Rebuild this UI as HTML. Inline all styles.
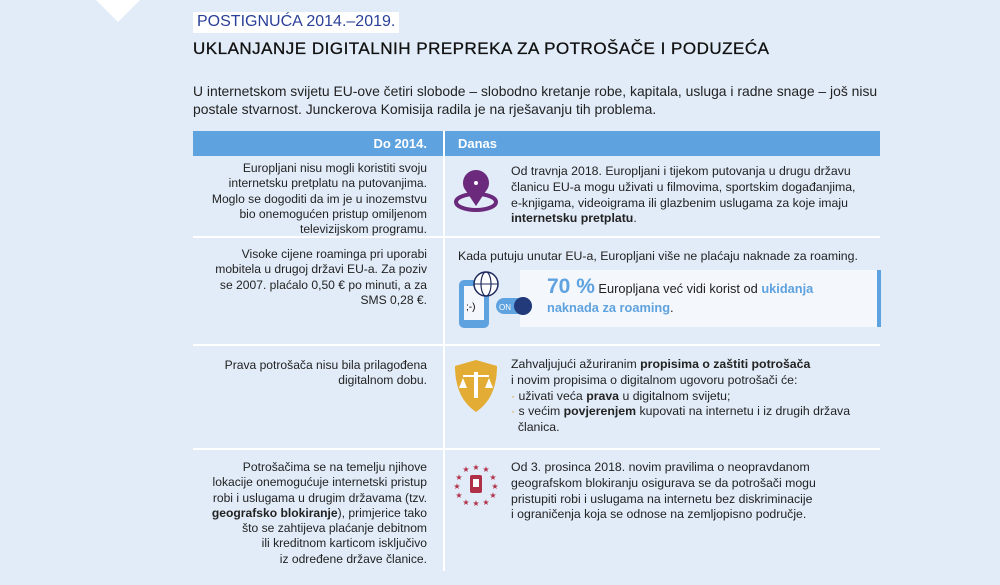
<!DOCTYPE html>
<html><head><meta charset="utf-8"><style>
body{margin:0;width:1000px;height:585px;background:#e2ecf8;font-family:"Liberation Sans",sans-serif;color:#222;position:relative;overflow:hidden}
.a{position:absolute}
.l{position:absolute;left:173px;width:254px;text-align:right;font-size:12.1px;line-height:15.3px;white-space:nowrap}
.r{position:absolute;left:511px;width:380px;font-size:12.3px;line-height:15.8px;white-space:nowrap}
b{font-weight:bold}
.hl{position:absolute;left:193px;width:687px;height:2px;background:#fff}
</style></head><body>
<div class="a" style="left:96px;top:0;width:0;height:0;border-left:22px solid transparent;border-right:22px solid transparent;border-top:22px solid #fff"></div>
<div class="a" style="left:193px;top:12px;background:#fff;color:#2a3f98;font-size:16px;padding:1px 4px 2px 4px">POSTIGNUĆA 2014.–2019.</div>
<div class="a" style="left:193px;top:39px;font-size:17px;letter-spacing:0.5px;color:#111;white-space:nowrap;-webkit-text-stroke:0.3px #111">UKLANJANJE DIGITALNIH PREPREKA ZA POTROŠAČE I PODUZEĆA</div>
<div class="a" style="left:193px;top:82px;width:700px;font-size:13.9px;line-height:18px;color:#222;white-space:nowrap">U internetskom svijetu EU-ove četiri slobode – slobodno kretanje robe, kapitala, usluga i radne snage – još nisu<br>postale stvarnost. Junckerova Komisija radila je na rješavanju tih problema.</div>
<div class="a" style="left:193px;top:131px;width:687px;height:25px;background:#5ea2df"></div>
<div class="a" style="left:443px;top:131px;width:2px;height:440px;background:#fff"></div>
<div class="a" style="left:193px;top:136px;width:234px;text-align:right;color:#fff;font-weight:bold;font-size:13px">Do 2014.</div>
<div class="a" style="left:458px;top:136px;color:#fff;font-weight:bold;font-size:13px">Danas</div>
<div class="hl" style="top:236px"></div><div class="hl" style="top:344px"></div><div class="hl" style="top:448px"></div>
<div class="l" style="top:161px">Europljani nisu mogli koristiti svoju<br>internetsku pretplatu na putovanjima.<br>Moglo se dogoditi da im je u inozemstvu<br>bio onemogućen pristup omiljenom<br>televizijskom programu.</div>
<div class="l" style="top:247px">Visoke cijene roaminga pri uporabi<br>mobitela u drugoj državi EU-a. Za poziv<br>se 2007. plaćalo 0,50 € po minuti, a za<br>SMS 0,28 €.</div>
<div class="l" style="top:358px">Prava potrošača nisu bila prilagođena<br>digitalnom dobu.</div>
<div class="l" style="top:460px">Potrošačima se na temelju njihove<br>lokacije onemogućuje internetski pristup<br>robi i uslugama u drugim državama (tzv.<br><b>geografsko blokiranje</b>), primjerice tako<br>što se zahtijeva plaćanje debitnom<br>ili kreditnom karticom isključivo<br>iz određene države članice.</div>
<div class="r" style="top:164px">Od travnja 2018. Europljani i tijekom putovanja u drugu državu<br>članicu EU-a mogu uživati u filmovima, sportskim događanjima,<br>e-knjigama, videoigrama ili glazbenim uslugama za koje imaju<br><b>internetsku pretplatu</b>.</div>
<svg class="a" style="left:452px;top:170px" width="48" height="44"><ellipse cx="24" cy="32" rx="20" ry="8" fill="none" stroke="#6b2a7c" stroke-width="4"/><path d="M24 36 L12 18 A13 13 0 1 1 36 18 Z" fill="#6b2a7c"/><circle cx="24" cy="13" r="2" fill="#fff"/></svg>
<div class="a" style="left:458px;top:249px;font-size:12.3px;white-space:nowrap">Kada putuju unutar EU-a, Europljani više ne plaćaju naknade za roaming.</div>
<div class="a" style="left:520px;top:270px;width:357px;height:57px;background:#f4f7fc"></div>
<div class="a" style="left:877px;top:270px;width:4px;height:57px;background:#5ea2df"></div>
<svg class="a" style="left:456px;top:270px" width="80" height="60"><rect x="3" y="10" width="30" height="48" rx="5" fill="#5ea2df"/><rect x="8" y="16" width="20" height="34" fill="#f4f7fc"/><text x="10" y="40" font-size="10" font-family="Liberation Sans">;-)</text><circle cx="30" cy="14" r="12" fill="#fff" stroke="#1e2b5e" stroke-width="1.5"/><ellipse cx="30" cy="14" rx="5" ry="12" fill="none" stroke="#1e2b5e" stroke-width="1.2"/><line x1="18" y1="14" x2="42" y2="14" stroke="#1e2b5e"/><rect x="40" y="28" width="36" height="16" rx="8" fill="#5ea2df"/><circle cx="67" cy="36" r="9" fill="#223a7a"/><text x="43" y="40" font-size="8" fill="#fff" font-family="Liberation Sans">ON</text></svg>
<div class="a" style="left:547px;top:277px;font-size:12.8px;line-height:19px;white-space:nowrap"><span style="color:#5ea2df;font-weight:bold;font-size:21px">70 %</span> Europljana već vidi korist od <b style="color:#5ea2df">ukidanja</b><br><b style="color:#5ea2df">naknada za roaming</b>.</div>
<div class="r" style="top:357px">Zahvaljujući ažuriranim <b>propisima o zaštiti potrošača</b><br>i novim propisima o digitalnom ugovoru potrošači će:<br><span style="color:#e0a030">·</span> uživati veća <b>prava</b> u digitalnom svijetu;<br><span style="color:#e0a030">·</span> s većim <b>povjerenjem</b> kupovati na internetu i iz drugih država<br>&nbsp;&nbsp;članica.</div>
<svg class="a" style="left:453px;top:358px" width="46" height="56"><path d="M23 2 L44 8 Q44 40 23 54 Q2 40 2 8 Z" fill="#e3ad35"/><rect x="21" y="14" width="4" height="26" fill="#fff"/><line x1="10" y1="18" x2="36" y2="18" stroke="#fff" stroke-width="2"/><path d="M6 30 L10 20 L14 30 Z M32 30 L36 20 L40 30 Z" fill="#fff"/></svg>
<div class="r" style="top:460px">Od 3. prosinca 2018. novim pravilima o neopravdanom<br>geografskom blokiranju osigurava se da potrošači mogu<br>pristupiti robi i uslugama na internetu bez diskriminacije<br>i ograničenja koja se odnose na zemljopisno područje.</div>
<svg class="a" style="left:454px;top:462px" width="44" height="44" font-size="8" fill="#b03048"><g text-anchor="middle"><text x="22" y="8">★</text><text x="12" y="10">★</text><text x="32" y="10">★</text><text x="5" y="18">★</text><text x="39" y="18">★</text><text x="3" y="27">★</text><text x="41" y="27">★</text><text x="5" y="36">★</text><text x="39" y="36">★</text><text x="12" y="43">★</text><text x="22" y="44">★</text><text x="32" y="43">★</text></g><rect x="16" y="13" width="12" height="18" rx="2" fill="#b03048"/><rect x="19" y="17" width="6" height="8" fill="#fff"/></svg>
</body></html>
